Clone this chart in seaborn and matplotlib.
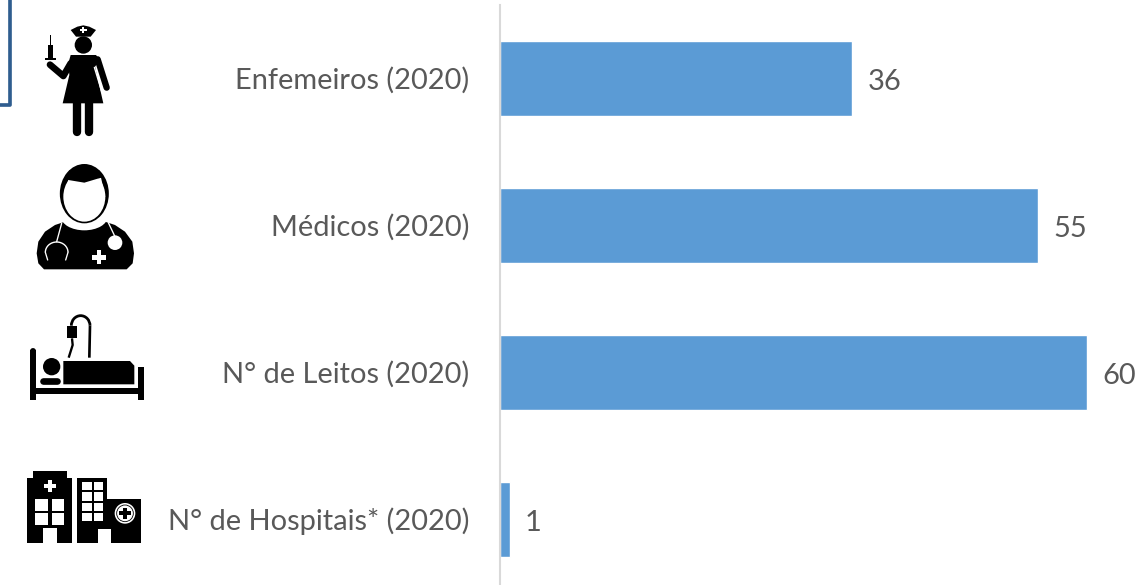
import matplotlib
matplotlib.use('Agg')
import matplotlib.pyplot as plt
from matplotlib.patches import Circle, Ellipse, Polygon, Rectangle, Arc
from matplotlib.transforms import ScaledTranslation
import pandas as pd
import seaborn as sns

categorias = ['Enfemeiros (2020)', 'Médicos (2020)', 'N° de Leitos (2020)', 'N° de Hospitais* (2020)']
valores = [36, 55, 60, 1]

sns.set_theme(style='white')
plt.rcParams['font.family'] = ['Lato', 'DejaVu Sans']

data = pd.DataFrame({'categoria': categorias, 'valor': valores})

W, H = 1145, 585
fig = plt.figure(figsize=(W / 100, H / 100), dpi=100)
ax = fig.add_axes([500 / W, 0, 645 / W, 1 - 5 / H])
sns.barplot(data=data, x='valor', y='categoria', color='#5B9BD5', saturation=1, width=0.505, ax=ax)
ax.set_xlim(0, 645 / 9.785)
ax.set_ylim((585 - 78.5) / 147, -0.5)
ax.set_xlabel('')
ax.set_ylabel('')
ax.xaxis.set_visible(False)
for s in ['top', 'right', 'bottom']:
    ax.spines[s].set_visible(False)
ax.spines['left'].set_color('#D9D9D9')
ax.spines['left'].set_linewidth(1.5)
ax.tick_params(axis='y', length=0, pad=22, labelsize=20.9, labelcolor='#595959')
sobe = ScaledTranslation(0, 0.3 / 72, fig.dpi_scale_trans)
for t in ax.get_yticklabels():
    t.set_transform(t.get_transform() + sobe)
rotulos = ax.bar_label(ax.containers[0], padding=11, fontsize=20.9, color='#595959')
for r in rotulos:
    r.xyann = (r.xyann[0], -2.2)

# icones, coordenadas em pixels x3
ic = fig.add_axes([0, 0, 1, 1], facecolor='none')
ic.set_xlim(0, W * 3)
ic.set_ylim(H * 3, 0)
ic.axis('off')


def linha(xs, ys, w, c='black', cap='round'):
    ic.plot(xs, ys, color=c, lw=w / 3 * 0.72, solid_capstyle=cap, solid_joinstyle='round')


def ret(x0, y0, x1, y1, c='black'):
    ic.add_patch(Rectangle((x0, y0), x1 - x0, y1 - y0, fc=c, ec='none'))


def cruz(x, y, r, w, c='white'):
    ret(x - r, y - w, x + r, y + w, c)
    ret(x - w, y - r, x + w, y + r, c)


# moldura azul no canto
linha([31, 31, 0], [0, 316, 316], 11, '#2F5D8F', 'butt')

# enfermeira
ic.add_patch(Polygon([(212, 90), (232, 80), (250, 76), (268, 80), (288, 90), (272, 110), (228, 110)], fc='black', ec='none'))
cruz(250, 90, 10, 3)
ic.add_patch(Circle((250, 135), 26, fc='black', ec='none'))
ic.add_patch(Polygon([(212, 165), (288, 165), (300, 180), (285, 200), (310, 310), (188, 310), (208, 225), (205, 190)], fc='black', ec='none'))
linha([293, 320], [178, 263], 19)
linha([212, 190, 150], [190, 228, 194], 20)
linha([283, 306], [202, 278], 4, 'white')
linha([232, 232], [310, 396], 25, cap='round')
linha([268, 268], [310, 396], 25, cap='round')
ret(143, 135, 160, 175)
ret(149, 105, 154, 135)
ret(136, 174, 167, 180)

# medico
ic.add_patch(Polygon([(110, 760), (115, 725), (135, 695), (165, 675), (195, 665), (315, 665), (345, 675),
                      (375, 695), (397, 725), (402, 760), (398, 790), (380, 808), (132, 808), (115, 790)], fc='black', ec='none'))
ic.add_patch(Ellipse((253, 650), 140, 82, fc='white', ec='none'))
ic.add_patch(Ellipse((253, 581), 147, 178, fc='black', ec='none'))
ic.add_patch(Ellipse((253, 590), 126, 150, fc='white', ec='none'))
ic.add_patch(Polygon([(192, 590), (205, 540), (253, 548), (303, 533), (316, 590)], fc='white', ec='none'))
ic.add_patch(Polygon([(205, 540), (253, 548), (303, 533), (303, 525), (297, 510), (209, 510), (203, 525)], fc='black', ec='none'))
linha([185, 170], [670, 725], 4, 'white')
ic.add_patch(Arc((170, 757), 68, 62, theta1=180, theta2=360, ec='white', lw=1.0))
linha([136, 143], [757, 780], 4, 'white')
linha([204, 197], [757, 780], 4, 'white')
linha([325, 345], [668, 710], 4, 'white')
ic.add_patch(Circle((345, 728), 22, fc='white', ec='none'))
cruz(297, 772, 21, 7)

# leito
dy = 885
ret(90, dy + 165, 108, dy + 316)
linha([99, 99], [dy + 168, dy + 170], 18)
ret(414, dy + 215, 433, dy + 316)
linha([423, 423], [dy + 218, dy + 220], 18)
ret(108, dy + 278, 414, dy + 298)
ic.add_patch(Circle((155, dy + 215), 26, fc='black', ec='none'))
linha([130, 172], [dy + 258, dy + 258], 20)
ic.add_patch(Polygon([(190, dy + 198), (390, dy + 198), (403, dy + 212), (403, dy + 268), (190, dy + 268)], fc='black', ec='none'))
ic.add_patch(Arc((242, dy + 92), 56, 60, theta1=180, theta2=360, ec='black', lw=2))
linha([270, 268], [dy + 92, dy + 188], 8, cap='butt')
ret(200, dy + 92, 232, dy + 130)
linha([216, 218, 206], [dy + 130, dy + 150, dy + 188], 7, cap='butt')

# hospitais
ret(82, dy + 548, 216, dy + 743)
ret(100, dy + 528, 202, dy + 548)
cruz(150, dy + 573, 19, 7)
for y0, y1 in [(613, 648), (655, 690)]:
    ret(105, dy + y0, 143, dy + y1, 'white')
    ret(155, dy + y0, 192, dy + y1, 'white')
ret(130, dy + 700, 170, dy + 743, 'white')
ret(230, dy + 548, 322, dy + 743)
ret(322, dy + 612, 422, dy + 743)
for y0, y1 in [(560, 585), (592, 617), (623, 648), (653, 678)]:
    ret(245, dy + y0, 275, dy + y1, 'white')
    ret(282, dy + y0, 310, dy + y1, 'white')
ret(293, dy + 702, 332, dy + 743, 'white')
ic.add_patch(Circle((375, dy + 655), 31, fc='white', ec='none'))
ic.add_patch(Circle((375, dy + 655), 25, fc='none', ec='black', lw=0.6))
cruz(375, dy + 655, 17, 6, 'black')

fig.savefig('out.png', dpi=100)
